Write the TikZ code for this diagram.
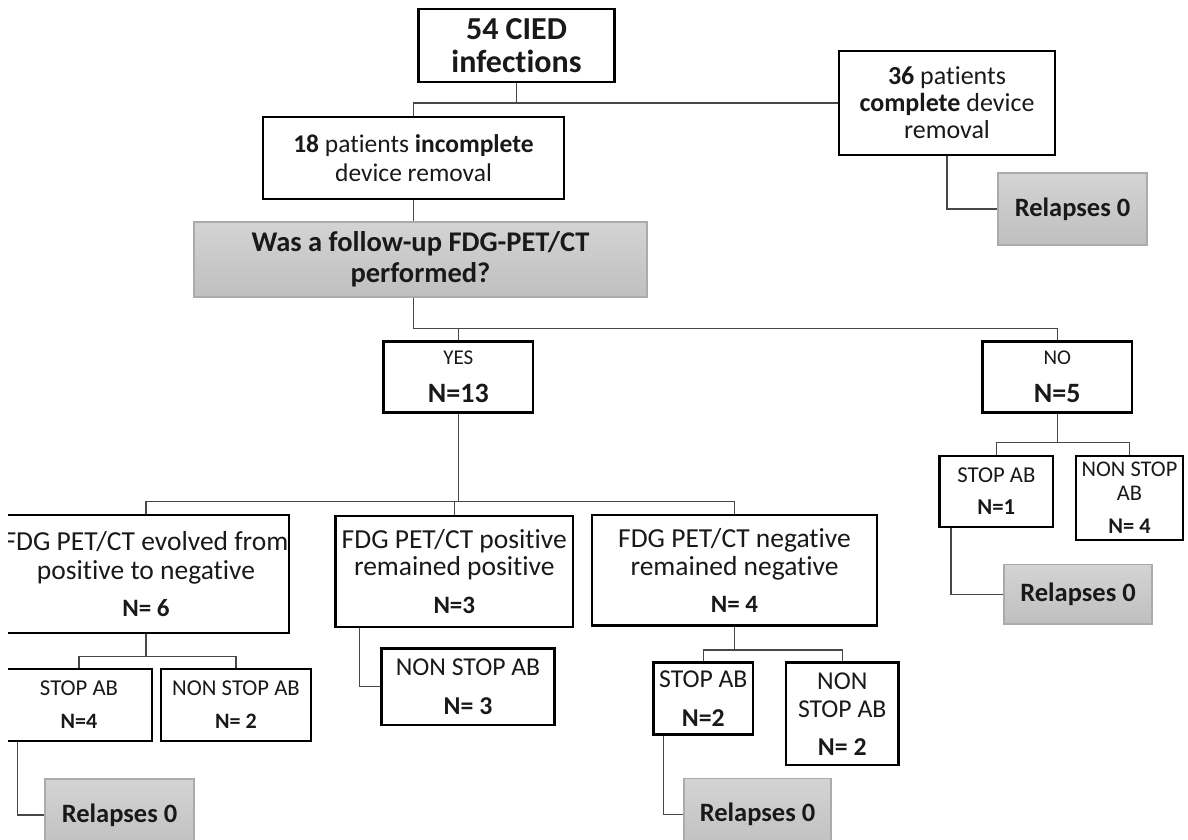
\documentclass[tikz,border=0pt]{standalone}
\usepackage{fontspec}
\setmainfont{Carlito}[Ligatures=NoCommon]
\usetikzlibrary{backgrounds}
\begin{document}
\begin{tikzpicture}[x=1pt,y=-1pt,
  box/.style={draw=black, line width=2.8pt, fill=white, inner sep=0pt, align=center, text=black!90},
  gbox/.style={draw=black!33, line width=1.3pt, top color=black!17, bottom color=black!25, inner sep=0pt, align=center, text=black!90, font=\fontsize{26.5}{30}\selectfont\bfseries},
  conn/.style={draw=black!72, line width=1.4pt},
]
\useasboundingbox (0,0) rectangle (1188,839);
\clip (8,0) rectangle (1188,839);

\node[box, minimum width=196pt, minimum height=73pt, font=\fontsize{32}{33}\selectfont\bfseries] (title) at (516.5,45.5) {54 CIED\\infections};
\node[box, minimum width=301pt, minimum height=82pt, font=\fontsize{25.5}{28.5}\selectfont] (inc) at (413.5,158) {\textbf{18} patients \textbf{incomplete}\\device removal};
\node[box, minimum width=216pt, minimum height=104pt, font=\fontsize{26}{27}\selectfont] (comp) at (947,103) {\textbf{36} patients\\\textbf{complete} device\\removal};
\node[gbox, minimum width=149pt, minimum height=72pt] (relTR) at (1072.5,209) {Relapses 0};
\node[gbox, minimum width=453pt, minimum height=75pt, font=\fontsize{28.5}{30.7}\selectfont\bfseries] (q) at (420.5,259.5) {Was a follow-up FDG-PET/CT\\performed?};

\node[box, minimum width=149.5pt, minimum height=71.5pt, font=\fontsize{21}{38}\selectfont] (yes) at (458.3,377) {YES\\{\fontsize{28}{38}\selectfont\bfseries N=13}};
\node[box, minimum width=149.5pt, minimum height=71.5pt, font=\fontsize{21}{38}\selectfont] (no) at (1057.25,377) {NO\\{\fontsize{28}{38}\selectfont\bfseries N=5}};

\node[box, minimum width=286pt, minimum height=118pt, font=\fontsize{27.5}{29}\selectfont] (A) at (146,574) {FDG PET/CT evolved from\\positive to negative\\[8pt]{\fontsize{25}{29}\selectfont\bfseries N= 6}};
\node[box, minimum width=237.4pt, minimum height=111pt, font=\fontsize{27.5}{27.5}\selectfont] (B) at (454.3,571.5) {FDG PET/CT positive\\remained positive\\[10.5pt]{\fontsize{25}{27.5}\selectfont\bfseries N=3}};
\node[box, minimum width=285pt, minimum height=110.4pt, font=\fontsize{27.5}{28.5}\selectfont] (C) at (734.5,570.2) {FDG PET/CT negative\\remained negative\\[8pt]{\fontsize{25}{28.5}\selectfont\bfseries N= 4}};

\node[box, minimum width=146pt, minimum height=72pt, font=\fontsize{22.7}{33}\selectfont] (A1) at (79,705) {STOP AB\\{\fontsize{22}{33}\selectfont\bfseries N=4}};
\node[box, minimum width=150pt, minimum height=72pt, font=\fontsize{22.7}{33}\selectfont] (A2) at (236,705) {NON STOP AB\\{\fontsize{22}{33}\selectfont\bfseries N= 2}};
\node[box, minimum width=173pt, minimum height=76.5pt, font=\fontsize{25.7}{39}\selectfont] (B1) at (468,686.75) {NON STOP AB\\{\bfseries N= 3}};
\node[box, minimum width=99.4pt, minimum height=72pt, font=\fontsize{25.7}{39.7}\selectfont] (C1) at (703.3,698.6) {STOP AB\\{\bfseries N=2}};
\node[box, minimum width=112.5pt, minimum height=102.4pt, font=\fontsize{25.7}{28.2}\selectfont] (C2) at (842.25,713.8) {NON\\STOP AB\\[9.8pt]{\bfseries N= 2}};
\node[box, minimum width=113.3pt, minimum height=71pt, font=\fontsize{22.7}{32}\selectfont] (N1) at (996.35,491.5) {STOP AB\\{\bfseries N=1}};
\node[box, minimum width=107pt, minimum height=84pt, font=\fontsize{22.4}{23.3}\selectfont] (N2) at (1129.5,498) {NON STOP\\AB\\[10.2pt]{\bfseries N= 4}};

\node[gbox, minimum width=148pt, minimum height=59.5pt] (relN) at (1078,594.25) {Relapses 0};
\node[gbox, minimum width=147pt, minimum height=72pt] (relC) at (757.5,814.6) {Relapses 0};
\node[gbox, minimum width=149pt, minimum height=72pt] (relA) at (119.5,815) {Relapses 0};

\begin{scope}[on background layer]
\coordinate (j1) at (title.south |- comp.west);
\draw[conn] (title.south) -- (j1) -| (inc.north);
\draw[conn] (j1) -- (comp.west);
\draw[conn] (comp.south) |- (relTR.west);
\draw[conn] (inc.south) -- (inc.south |- q.north);
\path (inc.south |- q.south) ++(0,31) coordinate (j2);
\draw[conn] (inc.south |- q.south) -- (j2) -| (no.north);
\draw[conn] (j2) -| (yes.north);
\path (yes.south) ++(0,87.25) coordinate (j3);
\draw[conn] (yes.south) -- (j3);
\draw[conn] (A.north) |- (j3) -| (C.north);
\draw[conn] (j3 -| B.north) -- (B.north);
\path (A.south) ++(0,22) coordinate (j4);
\draw[conn] (A.south) -- (j4);
\draw[conn] (A1.north) |- (j4) -| (A2.north);
\draw[conn] ([xshift=13pt]A1.south west) |- (relA.west);
\draw[conn] ([xshift=25pt]B.south west) |- (B1.west);
\path (C.south) ++(0,23.1) coordinate (j5);
\draw[conn] (C.south) -- (j5);
\draw[conn] (C1.north) |- (j5) -| (C2.north);
\draw[conn] ([xshift=11.4pt]C1.south west) |- (relC.west);
\path (no.south) ++(0,28.25) coordinate (j6);
\draw[conn] (no.south) -- (j6);
\draw[conn] (N1.north) |- (j6) -| (N2.north);
\draw[conn] ([xshift=12.8pt]N1.south west) |- (relN.west);
\end{scope}
\end{tikzpicture}
\end{document}
